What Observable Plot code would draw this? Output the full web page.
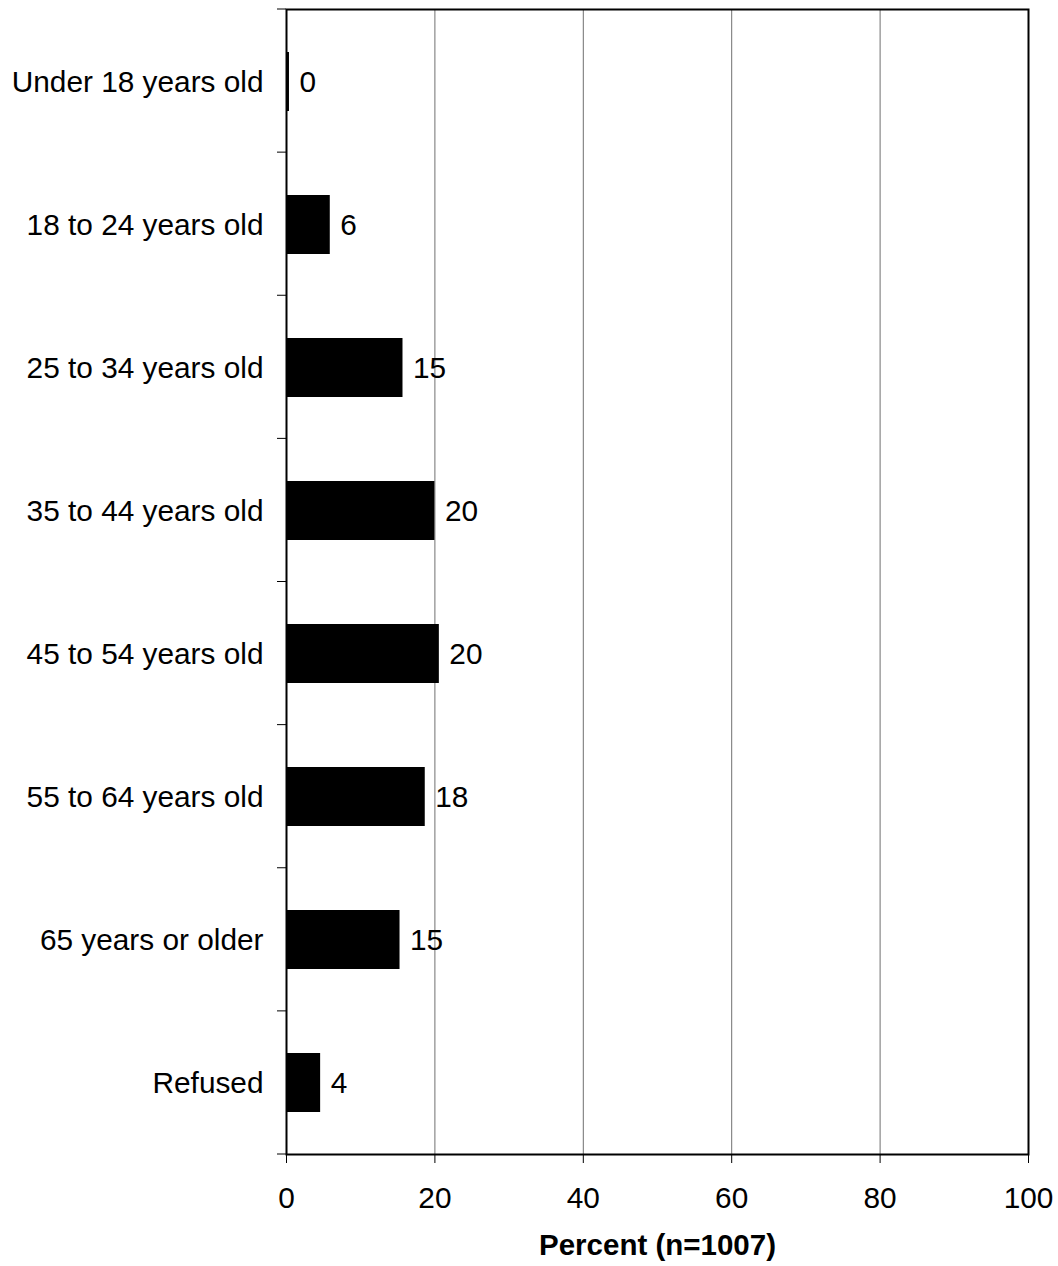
<!DOCTYPE html>
<html><head><meta charset="utf-8">
<script src="https://cdn.jsdelivr.net/npm/d3@7"></script>
<script src="https://cdn.jsdelivr.net/npm/@observablehq/plot@0.6"></script>
<style>body{margin:0;background:#fff} svg{display:block}</style>
</head><body><div id="chart"></div>
<script>
const categories = ["Under 18 years old","18 to 24 years old","25 to 34 years old","35 to 44 years old","45 to 54 years old","55 to 64 years old","65 years or older","Refused"];
const values = [0.4, 5.9, 15.7, 20.0, 20.6, 18.7, 15.3, 4.6];
const labels = ["0","6","15","20","20","18","15","4"];
const xTicks = [0,20,40,60,80,100];
const xLabel = "Percent (n=1007)";

const data = categories.map((c,i)=>({category:c, value:values[i], label:labels[i]}));
const font = '"Liberation Sans", Arial, Helvetica, sans-serif';
const plot = Plot.plot({
  width:1058, height:1266, marginLeft:286, marginRight:30, marginTop:9, marginBottom:112,
  style:{fontFamily:font, fontSize:"29.8px", color:"#000", background:"#fff", overflow:"visible"},
  x:{domain:[0,100], ticks:xTicks, label:null},
  y:{domain:categories, paddingInner:0.59, paddingOuter:0.295, label:null},
  marks:[
    Plot.gridX(xTicks.slice(1,-1), {stroke:"#707070", strokeOpacity:1, strokeWidth:1}),
    Plot.barX(data, {x:"value", y:"category", fill:"#000"}),
    Plot.text(data, {x:"value", y:"category", text:"label", textAnchor:"start", dx:10, fill:"#000"}),
    Plot.frame({stroke:"#000", strokeWidth:2}),
    Plot.axisX({ticks:xTicks, tickSize:9, tickPadding:23, label:null, stroke:"#000"}),
    Plot.axisY({tickSize:0, tickPadding:23, label:null}),
    Plot.text([xLabel], {text:d=>d, frameAnchor:"bottom", dy:100, lineAnchor:"bottom", fontWeight:"bold", fontSize:29.5})
  ]
});
// boundary ticks between categories, from the y scale's range
const ys = plot.scale("y"), xs = plot.scale("x");
const [r0, r1] = ys.range;
const n = categories.length;
const x0 = xs.apply(0);
const g = d3.select(plot).append("g").attr("stroke","#000").attr("stroke-width",1);
for (let i = 0; i <= n; i++) {
  const yy = r0 + (r1 - r0) * i / n;
  g.append("line").attr("x1", x0 - 9).attr("x2", x0).attr("y1", yy).attr("y2", yy);
}
document.getElementById("chart").appendChild(plot);
</script>
</body></html>
